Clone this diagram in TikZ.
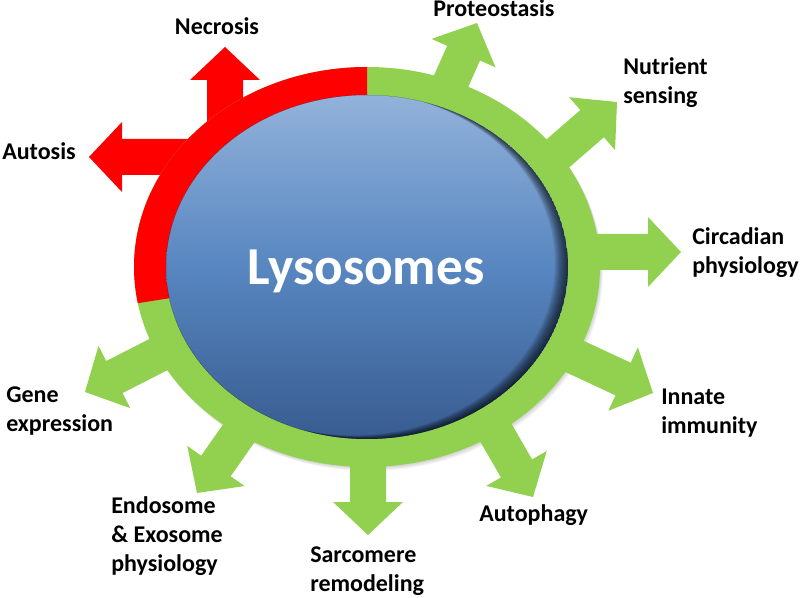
\documentclass[tikz,border=0pt]{standalone}
\usepackage{fontspec}
\setmainfont{Carlito}
\definecolor{lgreen}{HTML}{92D050}
\definecolor{lred}{HTML}{FF0000}
\definecolor{btop}{RGB}{146,178,218}
\definecolor{bmid}{RGB}{88,134,192}
\definecolor{bbot}{RGB}{56,92,144}
\begin{document}
\begin{tikzpicture}[x=0.75pt,y=0.75pt,
  blockarrow/.pic={\fill[pic actions] (0,0) -- (-33,35) -- (-33,18) -- (-140,18) -- (-140,-18) -- (-33,-18) -- (-33,-35) -- cycle;},
  lab/.style={anchor=base west, inner sep=0pt, font=\fontsize{18}{21.75}\selectfont\bfseries},
  outerring/.style={x radius=174.75pt, y radius=150pt},
  innerring/.style={x radius=150.75pt, y radius=129pt}
]
\useasboundingbox (0,0) rectangle (800,597);
\coordinate (c) at (367,330);

% soft shadow of the ring
\foreach \k in {1,...,5}
  \fill[black,opacity=0.035] ([shift={(\k*0.6,-\k*0.8)}]c) ellipse [outerring];

% arrows (tips)
\coordinate (t-nec) at (225,550);
\coordinate (t-aut) at (89,440);
\coordinate (t-pro) at (477,574);
\coordinate (t-nut) at (617,495);
\coordinate (t-cir) at (681,345);
\coordinate (t-inn) at (653,204);
\coordinate (t-aph) at (533,100);
\coordinate (t-sar) at (368,62);
\coordinate (t-end) at (197,104);
\coordinate (t-gen) at (85,205);

\pic[fill=lred, rotate=90] at (t-nec) {blockarrow};
\pic[fill=lred, rotate=180] at (t-aut) {blockarrow};
\pic[fill=lgreen, rotate=66] at (t-pro) {blockarrow};
\pic[fill=lgreen, rotate=41] at (t-nut) {blockarrow};
\pic[fill=lgreen, rotate=0] at (t-cir) {blockarrow};
\pic[fill=lgreen, rotate=-25] at (t-inn) {blockarrow};
\pic[fill=lgreen, rotate=-60] at (t-aph) {blockarrow};
\pic[fill=lgreen, rotate=-90] at (t-sar) {blockarrow};
\pic[fill=lgreen, rotate=-125] at (t-end) {blockarrow};
\pic[fill=lgreen, rotate=-153] at (t-gen) {blockarrow};

% ring
\fill[lgreen] (c) ellipse [outerring];
\begin{scope}
  \clip (c) ellipse [outerring];
  \fill[lred] (c) -- ++(0,300) -- ++(-500,0) -- ++(0,-379) -- cycle;
\end{scope}

% lysosome body
\shade[top color=btop, bottom color=bbot, middle color=bmid] (c) ellipse [innerring];
\begin{scope}
  \clip (c) ellipse [innerring];
  \foreach \k in {1,...,12}
    \fill[black, opacity=0.075, even odd rule] (c) ellipse [innerring]
      ([shift={(-\k*1.1,\k*0.3)}]c) ellipse [innerring];
\end{scope}

\node[anchor=base, inner sep=0pt, text=white, font=\fontsize{40}{48}\selectfont\bfseries] (lys) at (366,312) {Lysosomes};

% labels
\node[lab, anchor=base] (l-nec) at (217,562) {Necrosis};
\node[lab] (l-aut) at (2,437) {Autosis};
\node[lab] (l-pro) at (433,580) {Proteostasis};
\node[lab] (l-nut) at (623,522) {\begin{tabular}[t]{@{}l@{}}Nutrient\\sensing\end{tabular}};
\node[lab] (l-cir) at (692,352) {\begin{tabular}[t]{@{}l@{}}Circadian\\physiology\end{tabular}};
\node[lab] (l-inn) at (661,193) {\begin{tabular}[t]{@{}l@{}}Innate\\immunity\end{tabular}};
\node[lab] (l-aph) at (479,76) {Autophagy};
\node[lab] (l-sar) at (310,35) {\begin{tabular}[t]{@{}l@{}}Sarcomere\\remodeling\end{tabular}};
\node[lab] (l-end) at (111,84) {\begin{tabular}[t]{@{}l@{}}Endosome\\\& Exosome\\physiology\end{tabular}};
\node[lab] (l-gen) at (6,195) {\begin{tabular}[t]{@{}l@{}}Gene\\expression\end{tabular}};
\end{tikzpicture}
\end{document}
